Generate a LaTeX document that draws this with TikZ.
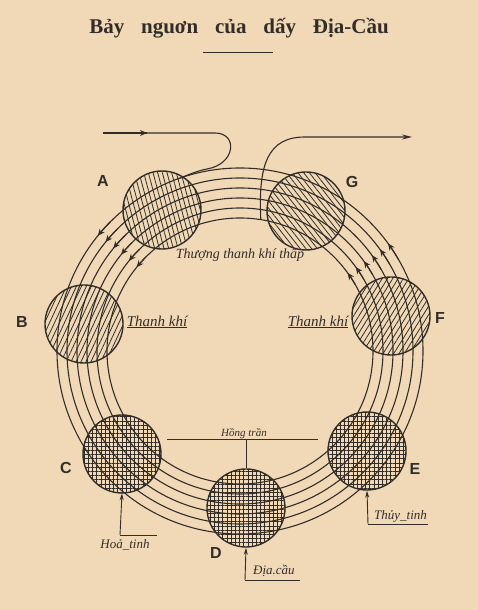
\documentclass[tikz,border=0pt]{standalone}
\usepackage{fontspec}
\setmainfont{Liberation Serif}
\newfontfamily\letterfont{Liberation Sans}
\definecolor{paper}{RGB}{241,217,184}
\definecolor{ink}{RGB}{50,45,40}
\usetikzlibrary{arrows.meta,patterns.meta,positioning,calc}

\tikzset{
  ring/.style={draw=ink, line width=1.1pt},
  planet/.style={circle, draw=ink, line width=1.4pt, minimum size=78pt, inner sep=0pt, pattern color=ink},
  letter/.style={font=\letterfont\bfseries\fontsize{16}{16}\selectfont, text=ink},
  hand/.style={font=\itshape\fontsize{13}{13}\selectfont, text=ink, inner sep=0pt},
  pointer/.style={draw=ink, line width=0.9pt, -{Stealth[length=7pt,width=4pt]}},
  flowtip/.style={draw=ink, line width=1.1pt, -{Stealth[length=7pt,width=6pt]}}
}

\begin{document}
\begin{tikzpicture}[x=1pt,y=1pt]
    \useasboundingbox (0,0) rectangle (478,610);
    \fill[paper] (0,0) rectangle (478,610);

    \node[text=ink, font=\bfseries\fontsize{21}{24}\selectfont] (title) at (239,582)
        {Bảy\hspace{0.8em}nguơn\hspace{0.8em}của\hspace{0.8em}dấy\hspace{0.8em}Địa-Cầu};
    \draw[ink, line width=0.9pt] (203,558) -- (273,558);

    \coordinate (O) at (240,259);
    \node[planet, pattern={Lines[angle=105,distance=4.5pt,line width=0.8pt]}] (A) at (162,400) {};
    \node[planet, pattern={Lines[angle=128,distance=4.5pt,line width=0.8pt]}] (G) at (306,399) {};
    \node[planet, pattern={Lines[angle=65,distance=4.5pt,line width=0.8pt]}] (B) at (84,286) {};
    \node[planet, pattern={Lines[angle=58,distance=4.5pt,line width=0.8pt]}] (F) at (391,294) {};
    \node[planet, pattern={Hatch[angle=0,distance=4.2pt,line width=0.6pt]}] (C) at (122,156) {};
    \node[planet, pattern={Hatch[angle=0,distance=4.2pt,line width=0.6pt]}] (D) at (246,102) {};
    \node[planet, pattern={Hatch[angle=0,distance=4.2pt,line width=0.6pt]}] (E) at (367,159) {};

    \foreach \r in {133,143,...,183} {
        \draw[ring] (O) circle[radius=\r];
        \draw[flowtip] (O) ++(135:\r) arc[start angle=135, end angle=141, radius=\r];
        \draw[flowtip] (O) ++(30:\r) arc[start angle=30, end angle=36, radius=\r];
    }

    % the wave comes in on the outer line and leaves from the inner one
    \coordinate (in) at (103,477);
    \coordinate (inmid) at (147,477);
    \coordinate (join) at ($(O)+(110:183)$);
    \coordinate (out) at ($(O)+(81:133)$);
    \coordinate (outend) at (412,473);
    \draw[ring] (in) -- (inmid);
    \draw[flowtip] (125,477) -- (inmid);
    \draw[ring] (inmid) -- (215,477) .. controls (238,477) and (236,446) .. (207,441)
        .. controls (196,439) and (186,434) .. (join);
    \draw[ring, -{Stealth[length=10pt,width=5pt]}] (out) .. controls (258,446) and (268,473) .. (305,473) -- (outend);

    \node[letter] (labA) at (103,429) {A};
    \node[letter] (labG) at (352,428) {G};
    \node[letter] (labB) at (22,288) {B};
    \node[letter] (labF) at (440,292) {F};
    \node[letter] (labC) at (66,142) {C};
    \node[letter] (labD) at (216,57) {D};
    \node[letter] (labE) at (415,141) {E};

    \node[hand, font=\itshape\fontsize{14}{14}\selectfont] (thuongthanh) at (240,355) {Thượng thanh khí thấp};
    \node[hand, font=\itshape\fontsize{15}{15}\selectfont] (thanhL) at (157,288) {\underline{Thanh khí}};
    \node[hand, font=\itshape\fontsize{15}{15}\selectfont] (thanhR) at (318,288) {\underline{Thanh khí}};

    \coordinate (hongL) at (167,171);
    \coordinate (hongR) at (318,171);
    \coordinate (hongK) at (246,171);
    \draw[ink, line width=0.8pt] (hongL) -- (hongR);
    \draw[ink, line width=0.8pt] (hongK) -- (D.north);
    \node[hand, font=\itshape\fontsize{11}{11}\selectfont, anchor=base] (hong) at (244,173) {Hồng trần};

    \coordinate (hoaK) at (120,75);
    \coordinate (hoaE) at (157,75);
    \draw[pointer] (hoaK) -- (C.south);
    \draw[ink, line width=0.9pt] (hoaK) -- (hoaE);
    \node[hand, anchor=base] (hoa) at (125,61) {Hoả\_tinh};

    \coordinate (thuyK) at (368,86);
    \coordinate (thuyE) at (428,86);
    \draw[pointer] (thuyK) -- (E.south);
    \draw[ink, line width=0.9pt] (thuyK) -- (thuyE);
    \node[hand, anchor=base west] (thuy) at (374,90) {Thủy\_tinh};

    \coordinate (diaK) at (245,30);
    \coordinate (diaE) at (300,30);
    \draw[pointer] (diaK) -- (D.south);
    \draw[ink, line width=0.9pt] (diaK) -- (diaE);
    \node[hand, anchor=base west] (dia) at (253,35) {Địa.cầu};
\end{tikzpicture}
\end{document}
